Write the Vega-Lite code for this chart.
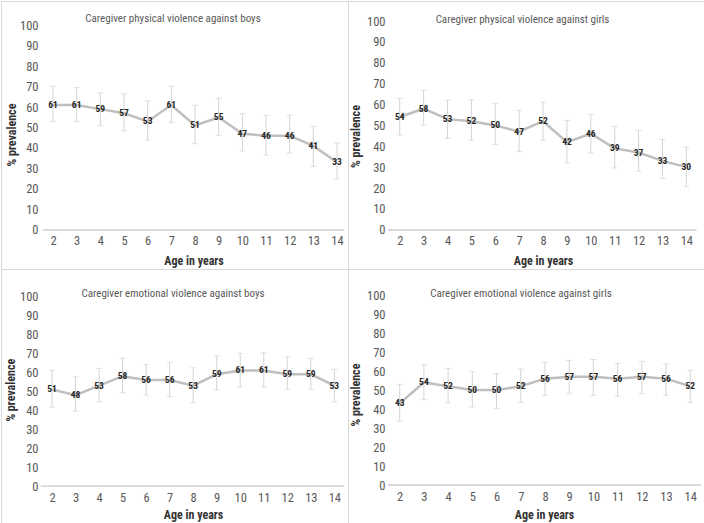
{
  "$schema": "https://vega.github.io/schema/vega-lite/v6.json",
  "padding": 0,
  "background": "white",
  "columns": 2,
  "spacing": 0,
  "bounds": "flush",
  "datasets": {
    "d": [
      {"panel": "pb", "age": 2, "v": 61, "lo": 53.0, "hi": 70.2},
      {"panel": "pb", "age": 3, "v": 61, "lo": 53.0, "hi": 69.5},
      {"panel": "pb", "age": 4, "v": 59, "lo": 50.9, "hi": 67.0},
      {"panel": "pb", "age": 5, "v": 57, "lo": 48.4, "hi": 66.5},
      {"panel": "pb", "age": 6, "v": 53, "lo": 43.9, "hi": 63.1},
      {"panel": "pb", "age": 7, "v": 61, "lo": 52.4, "hi": 70.2},
      {"panel": "pb", "age": 8, "v": 51, "lo": 42.1, "hi": 60.9},
      {"panel": "pb", "age": 9, "v": 55, "lo": 46.2, "hi": 64.3},
      {"panel": "pb", "age": 10, "v": 47, "lo": 38.5, "hi": 56.8},
      {"panel": "pb", "age": 11, "v": 46, "lo": 36.5, "hi": 56.0},
      {"panel": "pb", "age": 12, "v": 46, "lo": 37.5, "hi": 56.1},
      {"panel": "pb", "age": 13, "v": 41, "lo": 31.0, "hi": 50.6},
      {"panel": "pb", "age": 14, "v": 33, "lo": 24.8, "hi": 42.4},
      {"panel": "pg", "age": 2, "v": 54, "lo": 45.4, "hi": 63.0},
      {"panel": "pg", "age": 3, "v": 58, "lo": 50.2, "hi": 66.8},
      {"panel": "pg", "age": 4, "v": 53, "lo": 43.8, "hi": 62.0},
      {"panel": "pg", "age": 5, "v": 52, "lo": 42.8, "hi": 62.3},
      {"panel": "pg", "age": 6, "v": 50, "lo": 40.9, "hi": 60.6},
      {"panel": "pg", "age": 7, "v": 47, "lo": 37.4, "hi": 57.2},
      {"panel": "pg", "age": 8, "v": 52, "lo": 42.8, "hi": 61.2},
      {"panel": "pg", "age": 9, "v": 42, "lo": 32.0, "hi": 52.4},
      {"panel": "pg", "age": 10, "v": 46, "lo": 36.8, "hi": 55.3},
      {"panel": "pg", "age": 11, "v": 39, "lo": 29.6, "hi": 49.5},
      {"panel": "pg", "age": 12, "v": 37, "lo": 28.1, "hi": 47.6},
      {"panel": "pg", "age": 13, "v": 33, "lo": 24.6, "hi": 43.3},
      {"panel": "pg", "age": 14, "v": 30, "lo": 20.6, "hi": 39.6},
      {"panel": "eb", "age": 2, "v": 51, "lo": 41.7, "hi": 61.1},
      {"panel": "eb", "age": 3, "v": 48, "lo": 39.6, "hi": 57.7},
      {"panel": "eb", "age": 4, "v": 53, "lo": 44.4, "hi": 62.1},
      {"panel": "eb", "age": 5, "v": 58, "lo": 49.3, "hi": 67.5},
      {"panel": "eb", "age": 6, "v": 56, "lo": 48.1, "hi": 64.2},
      {"panel": "eb", "age": 7, "v": 56, "lo": 47.2, "hi": 65.3},
      {"panel": "eb", "age": 8, "v": 53, "lo": 44.0, "hi": 62.4},
      {"panel": "eb", "age": 9, "v": 59, "lo": 50.7, "hi": 68.6},
      {"panel": "eb", "age": 10, "v": 61, "lo": 52.3, "hi": 70.0},
      {"panel": "eb", "age": 11, "v": 61, "lo": 52.3, "hi": 70.3},
      {"panel": "eb", "age": 12, "v": 59, "lo": 51.1, "hi": 68.2},
      {"panel": "eb", "age": 13, "v": 59, "lo": 51.1, "hi": 67.4},
      {"panel": "eb", "age": 14, "v": 53, "lo": 44.4, "hi": 61.6},
      {"panel": "eg", "age": 2, "v": 43, "lo": 33.7, "hi": 53.0},
      {"panel": "eg", "age": 3, "v": 54, "lo": 44.9, "hi": 63.3},
      {"panel": "eg", "age": 4, "v": 52, "lo": 43.2, "hi": 61.4},
      {"panel": "eg", "age": 5, "v": 50, "lo": 41.1, "hi": 59.8},
      {"panel": "eg", "age": 6, "v": 50, "lo": 40.2, "hi": 58.6},
      {"panel": "eg", "age": 7, "v": 52, "lo": 43.5, "hi": 61.1},
      {"panel": "eg", "age": 8, "v": 56, "lo": 47.2, "hi": 64.6},
      {"panel": "eg", "age": 9, "v": 57, "lo": 48.3, "hi": 65.6},
      {"panel": "eg", "age": 10, "v": 57, "lo": 47.2, "hi": 66.1},
      {"panel": "eg", "age": 11, "v": 56, "lo": 46.8, "hi": 64.0},
      {"panel": "eg", "age": 12, "v": 57, "lo": 48.1, "hi": 65.1},
      {"panel": "eg", "age": 13, "v": 56, "lo": 47.2, "hi": 63.7},
      {"panel": "eg", "age": 14, "v": 52, "lo": 43.5, "hi": 60.4}
    ]
  },
  "concat": [
    {
      "width": 347, "height": 268,
      "data": {"name": "d"},
      "transform": [{"filter": "datum.panel === 'pb'"}],
      "title": {"text": "Caregiver physical violence against boys", "offset": -23, "dx": -1.5},
      "encoding": {
        "x": {"field": "age", "type": "quantitative",
          "scale": {"domain": [-0.197, 14.465], "nice": false, "zero": false},
          "axis": {"values": [2,3,4,5,6,7,8,9,10,11,12,13,14], "format": "d", "offset": -39.3, "labelPadding": 5,
            "title": "Age in years", "titleX": 192.5, "titleY": 31, "titleBaseline": "middle"}},
        "y": {"field": "v", "type": "quantitative",
          "scale": {"domain": [-19.2, 111.9], "nice": false, "zero": false},
          "axis": {"values": [0,10,20,30,40,50,60,70,80,90,100], "offset": -39, "labelPadding": 2,
            "title": "% prevalence", "titleX": -29, "titleY": 133.5, "titleAngle": -90, "titleBaseline": "middle", "titleAlign": "center"}}
      },
      "layer": [
        {"mark": {"type": "rule", "color": "#d9d9d9", "strokeWidth": 1}, "encoding": {"x": {"datum": 1.578}, "x2": {"datum": 14.296}, "y": {"datum": 0}}},
        {"mark": {"type": "rule", "color": "#d4d4d4", "strokeWidth": 1}, "encoding": {"y": {"field": "lo", "type": "quantitative"}, "y2": {"field": "hi"}}},
        {"mark": {"type": "tick", "orient": "horizontal", "color": "#d4d4d4", "size": 6, "thickness": 1}, "encoding": {"y": {"field": "lo", "type": "quantitative"}}},
        {"mark": {"type": "tick", "orient": "horizontal", "color": "#d4d4d4", "size": 6, "thickness": 1}, "encoding": {"y": {"field": "hi", "type": "quantitative"}}},
        {"mark": {"type": "line", "color": "#bfbfbf", "strokeWidth": 2.5}},
        {"mark": {"type": "text", "fontWeight": "bold", "fontSize": 9.5, "color": "#262626"}, "encoding": {"text": {"field": "v", "type": "quantitative"}}}
      ]
    },
    {
      "width": 357, "height": 268,
      "data": {"name": "d"},
      "transform": [{"filter": "datum.panel === 'pg'"}],
      "title": {"text": "Caregiver physical violence against girls", "offset": -24, "dx": -4},
      "encoding": {
        "x": {"field": "age", "type": "quantitative",
          "scale": {"domain": [-0.165, 14.78], "nice": false, "zero": false},
          "axis": {"values": [2,3,4,5,6,7,8,9,10,11,12,13,14], "format": "d", "offset": -39.3, "labelPadding": 5,
            "title": "Age in years", "titleX": 195, "titleY": 31, "titleBaseline": "middle"}},
        "y": {"field": "v", "type": "quantitative",
          "scale": {"domain": [-18.8, 109.6], "nice": false, "zero": false},
          "axis": {"values": [0,10,20,30,40,50,60,70,80,90,100], "offset": -39, "labelPadding": 2,
            "title": "% prevalence", "titleX": -32, "titleY": 135, "titleAngle": -90, "titleBaseline": "middle", "titleAlign": "center"}}
      },
      "layer": [
        {"mark": {"type": "rule", "color": "#d9d9d9", "strokeWidth": 1}, "encoding": {"x": {"datum": 1.51}, "x2": {"datum": 14.41}, "y": {"datum": 0}}},
        {"mark": {"type": "rule", "color": "#d4d4d4", "strokeWidth": 1}, "encoding": {"y": {"field": "lo", "type": "quantitative"}, "y2": {"field": "hi"}}},
        {"mark": {"type": "tick", "orient": "horizontal", "color": "#d4d4d4", "size": 6, "thickness": 1}, "encoding": {"y": {"field": "lo", "type": "quantitative"}}},
        {"mark": {"type": "tick", "orient": "horizontal", "color": "#d4d4d4", "size": 6, "thickness": 1}, "encoding": {"y": {"field": "hi", "type": "quantitative"}}},
        {"mark": {"type": "line", "color": "#bfbfbf", "strokeWidth": 2.5}},
        {"mark": {"type": "text", "fontWeight": "bold", "fontSize": 9.5, "color": "#262626"}, "encoding": {"text": {"field": "v", "type": "quantitative"}}}
      ]
    },
    {
      "width": 347, "height": 255,
      "data": {"name": "d"},
      "transform": [{"filter": "datum.panel === 'eb'"}],
      "title": {"text": "Caregiver emotional violence against boys", "offset": -30, "dx": -1.5},
      "encoding": {
        "x": {"field": "age", "type": "quantitative",
          "scale": {"domain": [-0.167, 14.58], "nice": false, "zero": false},
          "axis": {"values": [2,3,4,5,6,7,8,9,10,11,12,13,14], "format": "d", "offset": -37.7, "labelPadding": 5,
            "title": "Age in years", "titleX": 192, "titleY": 28.4, "titleBaseline": "middle"}},
        "y": {"field": "v", "type": "quantitative",
          "scale": {"domain": [-19.8, 114.4], "nice": false, "zero": false},
          "axis": {"values": [0,10,20,30,40,50,60,70,80,90,100], "offset": -39, "labelPadding": 2,
            "title": "% prevalence", "titleX": -29.5, "titleY": 120.7, "titleAngle": -90, "titleBaseline": "middle", "titleAlign": "center"}}
      },
      "layer": [
        {"mark": {"type": "rule", "color": "#d9d9d9", "strokeWidth": 1}, "encoding": {"x": {"datum": 1.53}, "x2": {"datum": 14.41}, "y": {"datum": 0}}},
        {"mark": {"type": "rule", "color": "#d4d4d4", "strokeWidth": 1}, "encoding": {"y": {"field": "lo", "type": "quantitative"}, "y2": {"field": "hi"}}},
        {"mark": {"type": "tick", "orient": "horizontal", "color": "#d4d4d4", "size": 6, "thickness": 1}, "encoding": {"y": {"field": "lo", "type": "quantitative"}}},
        {"mark": {"type": "tick", "orient": "horizontal", "color": "#d4d4d4", "size": 6, "thickness": 1}, "encoding": {"y": {"field": "hi", "type": "quantitative"}}},
        {"mark": {"type": "line", "color": "#bfbfbf", "strokeWidth": 2.5}},
        {"mark": {"type": "text", "fontWeight": "bold", "fontSize": 9.5, "color": "#262626"}, "encoding": {"text": {"field": "v", "type": "quantitative"}}}
      ]
    },
    {
      "width": 357, "height": 255,
      "data": {"name": "d"},
      "transform": [{"filter": "datum.panel === 'eg'"}],
      "title": {"text": "Caregiver emotional violence against girls", "offset": -30, "dx": -5.5},
      "encoding": {
        "x": {"field": "age", "type": "quantitative",
          "scale": {"domain": [-0.135, 14.61], "nice": false, "zero": false},
          "axis": {"values": [2,3,4,5,6,7,8,9,10,11,12,13,14], "format": "d", "offset": -39, "labelPadding": 5,
            "title": "Age in years", "titleX": 196, "titleY": 29.7, "titleBaseline": "middle"}},
        "y": {"field": "v", "type": "quantitative",
          "scale": {"domain": [-20.5, 113.7], "nice": false, "zero": false},
          "axis": {"values": [0,10,20,30,40,50,60,70,80,90,100], "offset": -39, "labelPadding": 2,
            "title": "% prevalence", "titleX": -32, "titleY": 125.5, "titleAngle": -90, "titleBaseline": "middle", "titleAlign": "center"}}
      },
      "layer": [
        {"mark": {"type": "rule", "color": "#d9d9d9", "strokeWidth": 1}, "encoding": {"x": {"datum": 1.517}, "x2": {"datum": 14.44}, "y": {"datum": 0}}},
        {"mark": {"type": "rule", "color": "#d4d4d4", "strokeWidth": 1}, "encoding": {"y": {"field": "lo", "type": "quantitative"}, "y2": {"field": "hi"}}},
        {"mark": {"type": "tick", "orient": "horizontal", "color": "#d4d4d4", "size": 6, "thickness": 1}, "encoding": {"y": {"field": "lo", "type": "quantitative"}}},
        {"mark": {"type": "tick", "orient": "horizontal", "color": "#d4d4d4", "size": 6, "thickness": 1}, "encoding": {"y": {"field": "hi", "type": "quantitative"}}},
        {"mark": {"type": "line", "color": "#bfbfbf", "strokeWidth": 2.5}},
        {"mark": {"type": "text", "fontWeight": "bold", "fontSize": 9.5, "color": "#262626"}, "encoding": {"text": {"field": "v", "type": "quantitative"}}}
      ]
    }
  ],
  "config": {
    "font": "Roboto Condensed, Noto Sans Condensed, Liberation Sans Narrow, Arial Narrow, sans-serif",
    "view": {"stroke": "#d9d9d9", "strokeWidth": 1},
    "axis": {
      "domain": false, "ticks": false, "grid": false,
      "labelFont": "Roboto Condensed, Liberation Sans Narrow, sans-serif", "labelFontSize": 12.5, "labelColor": "#595959",
      "titleFont": "Roboto Condensed, Noto Sans Condensed, Liberation Sans Narrow, Arial Narrow, sans-serif", "titleFontSize": 12, "titleFontWeight": "bold", "titleColor": "#333333"
    },
    "title": {"font": "Roboto Condensed, Noto Sans Condensed, Liberation Sans Narrow, Arial Narrow, sans-serif", "fontSize": 11, "fontWeight": "normal", "color": "#595959", "anchor": "middle", "frame": "group"},
    "text": {"font": "Roboto Condensed, Noto Sans Condensed, Liberation Sans Narrow, Arial Narrow, sans-serif"}
  }
}
